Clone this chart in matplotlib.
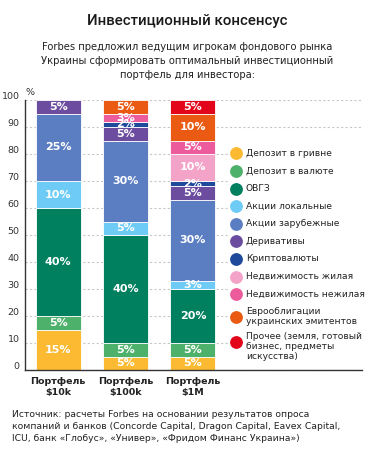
import matplotlib
matplotlib.use('Agg')
import matplotlib.pyplot as plt
import matplotlib.transforms as mtransforms
from matplotlib.lines import Line2D
from matplotlib.patches import Rectangle
import numpy as np

plt.rcParams['font.family'] = ['DejaVu Sans']

# ---------------- data ----------------
portfolios = ['Портфель\n$10k', 'Портфель\n$100k', 'Портфель\n$1M']

series_names = [
    'Депозит в гривне',
    'Депозит в валюте',
    'ОВГЗ',
    'Акции локальные',
    'Акции зарубежные',
    'Деривативы',
    'Криптовалюты',
    'Недвижимость жилая',
    'Недвижимость нежилая',
    'Еврооблигации\nукраинских эмитентов',
    'Прочее (земля, готовый\nбизнес, предметы\nискусства)',
]

deposit_uah = [15, 5, 5]
deposit_fx = [5, 5, 5]
ovgz = [40, 40, 20]
stocks_local = [10, 5, 3]
stocks_foreign = [25, 30, 30]
derivatives = [5, 5, 5]
crypto = [0, 2, 2]
realty_living = [0, 0, 10]
realty_commercial = [0, 3, 5]
eurobonds = [0, 5, 10]
other = [0, 0, 5]

series_values = [deposit_uah, deposit_fx, ovgz, stocks_local, stocks_foreign,
                 derivatives, crypto, realty_living, realty_commercial,
                 eurobonds, other]

colors = ['#FBBA32', '#4DB06B', '#00805F', '#6DCBF6', '#5B7EC2', '#6B4C9E',
          '#1F4A9C', '#F4A3C8', '#EC5C9C', '#EA5A12', '#E3061A']

y_ticks = [0, 10, 20, 30, 40, 50, 60, 70, 80, 90, 100]

title = 'Инвестиционный консенсус'
subtitle = ('Forbes предложил ведущим игрокам фондового рынка\n'
            'Украины сформировать оптимальный инвестиционный\n'
            'портфель для инвестора:')
footer = ('Источник: расчеты Forbes на основании результатов опроса\n'
          'компаний и банков (Concorde Capital, Dragon Capital, Eavex Capital,\n'
          'ICU, банк «Глобус», «Универ», «Фридом Финанс Украина»)')

# ---------------- figure ----------------
W, H = 374, 457
fig = plt.figure(figsize=(W / 100, H / 100), dpi=100)


def fx(px):
    return px / W


def fy(py):
    return 1 - py / H


ax = fig.add_axes([fx(25), fy(370), fx(362) - fx(25), fy(100) - fy(370)])

x = np.arange(len(portfolios))
bottom = np.zeros(len(portfolios))
for vals, col in zip(series_values, colors):
    vals = np.array(vals, dtype=float)
    mask = vals > 0
    bars = ax.bar(x[mask], vals[mask], 0.668, bottom=bottom[mask], color=col,
                  edgecolor='white', linewidth=0.6, zorder=2)
    ax.bar_label(bars, labels=[f'{int(v)}%' for v in vals[mask]],
                 label_type='center', color='white', fontsize=8,
                 fontweight='bold', zorder=3)
    bottom += vals

ax.set_xlim(-0.493, 4.51)
ax.set_ylim(0, 100)
ax.set_yticks(y_ticks)
ax.set_yticklabels([str(t) for t in y_ticks])
ax.set_xticks(x)
ax.set_xticklabels(portfolios, fontsize=6.8, fontweight='bold', color='#222222',
                   linespacing=1.25)
ax.tick_params(axis='both', length=0)
ax.tick_params(axis='y', pad=4, labelsize=6.8, labelcolor='#333333')
ax.tick_params(axis='x', pad=5)
ax.yaxis.grid(True, linestyle=(0, (2, 2)), color='#c8c8c8', linewidth=0.8)
ax.set_axisbelow(True)
for s in ['top', 'right']:
    ax.spines[s].set_visible(False)
for s in ['left', 'bottom']:
    ax.spines[s].set_color('#333333')
    ax.spines[s].set_linewidth(1.0)

offset = mtransforms.ScaledTranslation(0, 3 / 72, fig.dpi_scale_trans)
for lbl in ax.get_yticklabels():
    lbl.set_transform(lbl.get_transform() + offset)

fig.text(fx(30), fy(92), '%', ha='center', va='center', fontsize=6.8,
         color='#333333')

# ---------------- legend (manual) ----------------
fig.add_artist(Rectangle((fx(228), fy(366)), fx(368) - fx(228), fy(140) - fy(366),
                         transform=fig.transFigure, facecolor='white',
                         edgecolor='none', zorder=3))
cursor = 153.3
lh = 10.5
for name, col in zip(series_names, colors):
    n = name.count('\n') + 1
    my = cursor + min(n - 1, 1) * lh / 2
    fig.add_artist(Line2D([fx(236)], [fy(my)], marker='o', markersize=8.2,
                          color=col, transform=fig.transFigure, zorder=4))
    fig.text(fx(246), fy(cursor + (n - 1) * lh / 2), name, ha='left', va='center',
             fontsize=6.6, color='#222222', linespacing=1.15, zorder=4)
    cursor += 17.6 + (n - 1) * 7

# ---------------- texts ----------------
fig.text(0.5, fy(21), title, ha='center', va='center', fontsize=10.8,
         family=['Roboto', 'DejaVu Sans'], fontweight='medium', color='#1a1a1a')
fig.text(0.5, fy(61), subtitle, ha='center', va='center', fontsize=7.2,
         linespacing=1.45, color='#222222')
fig.text(fx(12), fy(426.5), footer, ha='left', va='center', fontsize=6.7,
         linespacing=1.42, color='#222222')

fig.savefig('out.png', dpi=100)
